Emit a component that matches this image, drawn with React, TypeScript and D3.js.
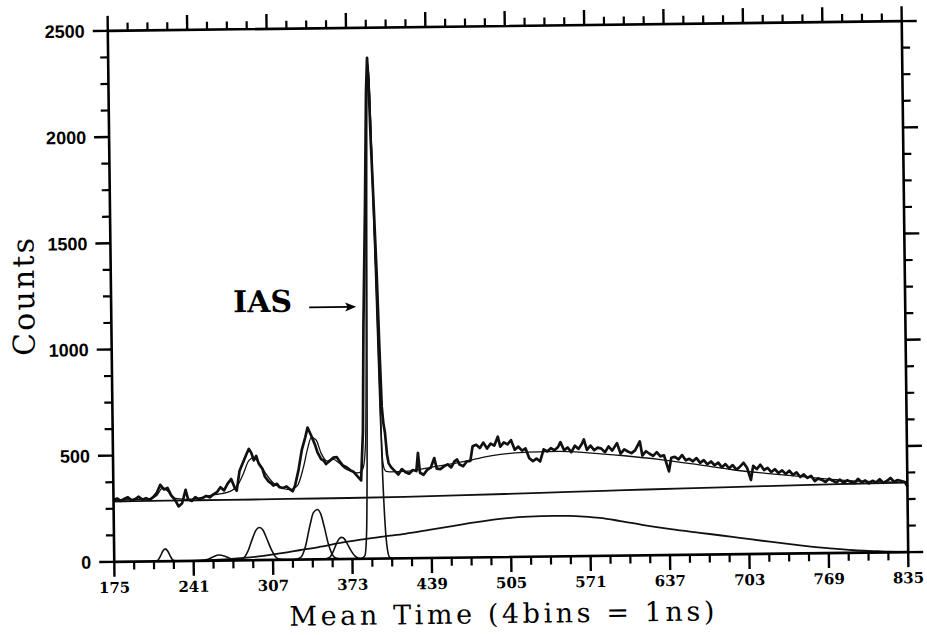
import React from 'react';
import * as d3 from 'd3';

// ---- data ----
const xTickValues = [175, 241, 307, 373, 439, 505, 571, 637, 703, 769, 835];
const yTickValues = [0, 500, 1000, 1500, 2000, 2500];
const xMinorStep = 16.5;
const yMinorStep = 125;

// measured histogram (Mean Time, Counts)
const measured: [number, number][] = [
  [175, 290], [178, 298], [181, 287], [184, 296], [187, 303], [190, 289], [193, 294], [196, 305], [199, 291],
  [202, 298], [205, 290], [208, 302], [211, 322], [214, 360], [217, 338], [220, 345], [223, 310], [226, 290],
  [229, 257], [232, 272], [235, 335], [237, 290], [240, 282], [243, 300], [246, 288], [249, 295], [252, 305],
  [255, 298], [258, 312], [261, 322], [264, 345], [267, 330], [270, 362], [273, 383], [276, 340], [277.5, 328],
  [280, 420], [283, 460], [286, 500], [288, 524], [290, 505], [292, 470], [294, 490], [296, 455], [299, 430],
  [301, 393], [304, 370], [306, 362], [308, 350], [311, 358], [313, 342], [316, 338], [319, 345], [322, 330],
  [324, 322], [326, 348], [329, 420], [332, 516], [335, 575], [337, 621], [340, 582], [343, 540], [345, 504],
  [348, 472], [350, 465], [352, 448], [355, 462], [358, 478], [361, 480], [364, 455], [366, 440], [369, 432],
  [372, 418], [375, 409], [377, 395], [379, 382], [381, 369], [383, 600], [384.5, 1100], [387, 1662],
  [389, 2200], [390.2, 2358], [391.2, 2240], [392.4, 1972], [394, 1700], [396, 1346], [397.5, 1000],
  [398.9, 714], [400, 640], [401.3, 592], [402.8, 489], [404, 449], [406, 430], [409, 412], [412, 395],
  [415, 420], [418, 405], [421, 398], [424, 415], [427, 410], [428.5, 495], [430, 402], [433, 392],
  [436, 415], [439, 425], [442, 470], [444, 420], [447, 418], [450, 430], [453, 440], [456, 425], [459, 455],
  [461, 462], [463, 438], [466, 430], [469, 452], [472, 455], [474, 524], [477, 530], [480, 515], [483, 540],
  [486, 512], [489, 535], [492, 525], [495, 567], [497, 520], [500, 540], [503, 530], [506, 550], [509, 505],
  [512, 519], [515, 500], [518, 510], [521, 464], [524, 450], [527, 462], [530, 448], [533, 505], [536, 495],
  [539, 510], [542, 500], [545, 515], [547, 538], [550, 500], [553, 512], [556, 490], [559, 520], [562, 505],
  [565, 530], [566.5, 549], [569, 500], [572, 520], [575, 498], [578, 510], [581, 505], [584, 488], [587, 515],
  [590, 495], [594, 530], [597, 480], [600, 500], [603, 490], [606, 482], [609, 495], [613, 537], [615, 470],
  [618, 490], [621, 478], [624, 468], [627, 485], [630, 465], [633, 470], [637, 394], [639, 458], [642, 462],
  [645, 450], [648, 470], [651, 445], [654, 452], [657, 440], [660, 455], [663, 432], [666, 445], [669, 425],
  [672, 438], [675, 420], [678, 432], [681, 410], [684, 425], [687, 405], [690, 420], [693, 398], [696, 412],
  [699, 430], [702, 405], [705, 349], [707, 415], [710, 400], [713, 420], [716, 395], [719, 405], [722, 385],
  [725, 398], [728, 380], [731, 392], [734, 375], [737, 390], [740, 370], [743, 382], [746, 360], [749, 372],
  [752, 355], [755, 365], [758, 340], [761, 352], [764, 345], [767, 335], [770, 350], [773, 340], [776, 332],
  [779, 345], [782, 330], [785, 342], [788, 335], [791, 328], [794, 348], [797, 332], [800, 340], [803, 326],
  [806, 338], [809, 330], [812, 345], [815, 328], [818, 336], [821, 350], [824, 332], [827, 340], [830, 335],
  [833, 330], [835, 309],
];

// total fit curve
const totalFit: [number, number][] = [
  [175, 290], [195, 292], [205, 295], [211, 310], [216, 345], [220, 330], [225, 296], [235, 290], [250, 300],
  [258, 310], [265, 315], [272, 325], [278, 350], [283, 405], [288, 470], [292, 482], [297, 452], [302, 405],
  [308, 362], [315, 338], [322, 330], [328, 348], [333, 430], [337, 525], [340, 575], [344, 562], [348, 500],
  [353, 462], [358, 470], [363, 452], [368, 425], [373, 412], [378, 405], [381, 410], [383, 430], [385, 540],
  [386.5, 1000], [388, 1750], [389.5, 2250], [390.5, 2330], [391.5, 2260], [393, 1950], [394.5, 1560],
  [396, 1160], [397.5, 760], [399, 470], [400.5, 420], [402, 410], [405, 408], [420, 410], [440, 428],
  [460, 445], [475, 462], [490, 478], [505, 488], [520, 493], [545, 494], [570, 486], [600, 470], [630, 450],
  [660, 425], [690, 398], [720, 378], [750, 360], [780, 343], [810, 333], [835, 328],
];

// linear-ish background
const background: [number, number][] = [
  [175, 284], [220, 285], [270, 285], [320, 286], [370, 287], [417, 289], [460, 293], [500, 297], [554, 303],
  [600, 308], [650, 313], [695, 317], [747, 322], [790, 325], [835, 327],
];

// broad component
const broadComponent: [number, number][] = [
  [240, 0], [255, 2], [270, 6], [292, 15], [310, 28], [330, 45], [345, 58], [363, 76], [380, 90], [400, 104],
  [417, 115], [437, 132], [455, 148], [475, 165], [496, 180], [520, 189], [541, 191], [554, 190], [566, 186],
  [579, 179], [596, 163], [614, 144], [638, 122], [662, 103], [680, 89], [695, 77], [720, 57], [747, 37],
  [770, 22], [790, 12], [806, 7], [820, 3], [835, 1],
];

const peak217: [number, number][] = [
  [207, 0], [211, 4], [213.5, 25], [215.5, 48], [217.4, 58], [219.5, 48], [221.5, 25], [224, 4], [228, 0],
];
const peak262: [number, number][] = [
  [246, 0], [252, 5], [257, 17], [262, 26], [267, 20], [272, 8], [278, 1], [284, 0],
];
const peak296: [number, number][] = [
  [276, 0], [282, 8], [286, 40], [290, 100], [293, 140], [296, 153], [299, 140], [302, 100], [306, 45],
  [309, 15], [313, 2], [318, 0],
];
const peak344: [number, number][] = [
  [325, 0], [330, 10], [334, 60], [338, 160], [341, 220], [344.3, 235], [347, 215], [350, 150], [353, 75],
  [356, 25], [359, 5], [363, 0],
];
const peak364: [number, number][] = [
  [349, 0], [354, 8], [357, 35], [360, 75], [362.5, 98], [364.3, 102], [366.5, 95], [369, 70], [372, 38],
  [375, 14], [378, 3], [382, 0],
];
const peakIAS: [number, number][] = [
  [380, 0], [383.4, 15], [385, 120], [386.5, 600], [388, 1450], [389.5, 2150], [390.5, 2330], [391.5, 2250],
  [393, 1900], [394.5, 1500], [396, 1100], [397.5, 700], [399, 380], [400.5, 160], [402, 50], [404, 5], [407, 0],
];

// ---- layout ----
const W = 927;
const H = 635;
const L = 111;
const R = 905;
const T = 26;
const B = 557;

export default function App() {
  const x = d3.scaleLinear().domain([175, 835]).range([L, R]);
  const y = d3.scaleLinear().domain([0, 2500]).range([B, T]);

  const lineLin = d3.line<[number, number]>().x(d => x(d[0])).y(d => y(d[1]));
  const lineSmooth = d3
    .line<[number, number]>()
    .x(d => x(d[0]))
    .y(d => y(d[1]))
    .curve(d3.curveMonotoneX);

  const xMinor = d3.range(175, 835.01, xMinorStep).filter(v => !xTickValues.some(t => Math.abs(t - v) < 0.1));
  const yMinor = d3.range(0, 2500.01, yMinorStep).filter(v => !yTickValues.some(t => Math.abs(t - v) < 0.1));

  const maj = 15;
  const min = 8;
  const components = [peak217, peak262, peak296, peak344, peak364, peakIAS];

  return (
    <svg width={W} height={H} style={{ position: 'absolute', left: 0, top: 0, background: '#fff' }}>
      <rect x={0} y={0} width={W} height={H} fill="#fff" />
      <g transform="rotate(-0.7 508 291.5)">
        {/* curves */}
        <path d={lineSmooth(background) || ''} fill="none" stroke="#111" strokeWidth={1.8} />
        <path d={lineSmooth(broadComponent) || ''} fill="none" stroke="#111" strokeWidth={1.8} />
        {components.map((c, i) => (
          <path key={i} d={lineSmooth(c) || ''} fill="none" stroke="#111" strokeWidth={1.6} />
        ))}
        <path d={lineLin(measured) || ''} fill="none" stroke="#111" strokeWidth={2.7} strokeLinejoin="round" />
        <path d={lineSmooth(totalFit) || ''} fill="none" stroke="#111" strokeWidth={1.3} />

        {/* frame */}
        <rect x={L} y={T} width={R - L} height={B - T} fill="none" stroke="#000" strokeWidth={2.6} />

        {/* x ticks */}
        {xTickValues.map(v => (
          <g key={'xm' + v}>
            <line x1={x(v)} x2={x(v)} y1={B} y2={B + maj} stroke="#000" strokeWidth={2.4} />
            <line x1={x(v)} x2={x(v)} y1={T} y2={T - maj} stroke="#000" strokeWidth={2.4} />
          </g>
        ))}
        {xMinor.map(v => (
          <g key={'xn' + v}>
            <line x1={x(v)} x2={x(v)} y1={B} y2={B + min} stroke="#000" strokeWidth={2.2} />
            <line x1={x(v)} x2={x(v)} y1={T} y2={T - min} stroke="#000" strokeWidth={2.2} />
          </g>
        ))}
        {/* y ticks */}
        {yTickValues.map(v => (
          <g key={'ym' + v}>
            <line x1={L} x2={L - maj} y1={y(v)} y2={y(v)} stroke="#000" strokeWidth={2.4} />
            <line x1={R} x2={R + maj} y1={y(v)} y2={y(v)} stroke="#000" strokeWidth={2.4} />
          </g>
        ))}
        {yMinor.map(v => (
          <g key={'yn' + v}>
            <line x1={L} x2={L - min} y1={y(v)} y2={y(v)} stroke="#000" strokeWidth={2.2} />
            <line x1={R} x2={R + min} y1={y(v)} y2={y(v)} stroke="#000" strokeWidth={2.2} />
          </g>
        ))}

        {/* tick labels */}
        {xTickValues.map(v => (
          <text
            key={'xl' + v}
            x={x(v)}
            y={588}
            textAnchor="middle"
            fontFamily="'DejaVu Serif', serif"
            fontWeight="bold"
            fontSize={15}
            fill="#000"
          >
            {v}
          </text>
        ))}
        {yTickValues.map(v => (
          <text
            key={'yl' + v}
            x={88}
            y={y(v)}
            dy="0.36em"
            textAnchor="end"
            fontFamily="'Liberation Sans', Arial, sans-serif"
            fontWeight="bold"
            fontSize={18}
            fill="#000"
          >
            {v}
          </text>
        ))}

        {/* axis titles */}
        <text
          x={498}
          y={623}
          textAnchor="middle"
          fontFamily="'DejaVu Serif', serif"
          fontSize={27}
          textLength={425}
          lengthAdjust="spacing"
          fill="#000"
        >
          Mean Time (4bins = 1ns)
        </text>
        <text
          transform="translate(34 291) rotate(-90)"
          textAnchor="middle"
          fontFamily="'DejaVu Serif', serif"
          fontSize={30}
          textLength={118}
          lengthAdjust="spacing"
          fill="#000"
        >
          Counts
        </text>

        {/* annotation */}
        <text
          x={233}
          y={309}
          fontFamily="'DejaVu Serif', serif"
          fontWeight="bold"
          fontSize={30}
          fill="#000"
        >
          IAS
        </text>
        <line x1={309} x2={350} y1={305} y2={305} stroke="#000" strokeWidth={1.8} />
        <path d="M356,305 L345,300.5 L347.5,305 L345,309.5 Z" fill="#000" />
      </g>
    </svg>
  );
}
